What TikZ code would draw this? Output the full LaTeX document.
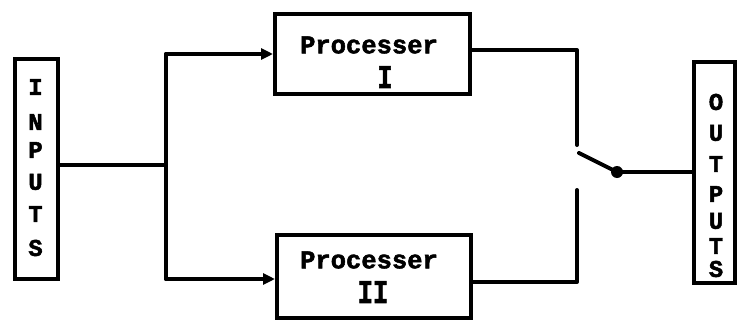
\documentclass[tikz,border=0pt]{standalone}
\usepackage{fontspec}
\usepackage{graphicx}
\setmonofont{Liberation Mono}[BoldFeatures={FakeBold=2}]
\usetikzlibrary{arrows.meta}
\begin{document}
\begin{tikzpicture}[x=1pt,y=-1pt,
  wire/.style={line width=4pt, line cap=round, line join=round},
  frame/.style={draw, line width=4pt, rectangle, inner sep=0pt},
  lbl/.style={font=\ttfamily\bfseries\fontsize{25.5}{25.5}\selectfont, inner sep=0pt},
  letter/.style={font=\ttfamily\bfseries\fontsize{24}{24}\selectfont, inner sep=0pt},
  tip/.style={-{Triangle[length=12pt,width=11pt]}}]
\useasboundingbox (0,0) rectangle (739,324);

% blocks
\node[frame, minimum width=43pt, minimum height=220pt] (inputs) at (36.5,169) {};
\node[frame, minimum width=195pt, minimum height=80pt] (p1) at (372.5,54) {};
\node[frame, minimum width=194pt, minimum height=83pt] (p2) at (374,276.5) {};
\node[frame, minimum width=41pt, minimum height=221pt] (outputs) at (714.5,172.5) {};

% block labels
\node[lbl] (p1a) at (369,45) {Processer};
\node[lbl] (p1b) at (385,77) {\scalebox{1}[1.3]{I}};
\node[lbl] (p2a) at (369,260) {Processer};
\node[lbl] (p2b) at (373,292) {\scalebox{1}[1.3]{II}};

% vertical captions
\foreach \ch/\yy [count=\k] in {I/87,N/122,P/150,U/182,T/214,S/248}
  \node[letter] (in\k) at (35.5,\yy) {\ch};
\foreach \ch/\yy [count=\k] in {O/102,U/133,T/164,P/194,U/221,T/246,S/269}
  \node[letter] (out\k) at (716,\yy) {\ch};

% fork from the inputs to both processors
\coordinate (j) at (166,165);
\coordinate (jt) at (166,54);
\coordinate (jb) at (166,279);
\draw[wire] (inputs.east |- j) -- (j);
\draw[wire] (jb) -- (jt);
\draw[wire, tip] (jt) -- (p1.west |- jt);
\draw[wire, tip] (jb) -- (p2.west |- jb);

% selector switch
\coordinate (ua) at (577,50);
\coordinate (ub) at (577,145);
\coordinate (la) at (577,190);
\coordinate (lb) at (577,282);
\coordinate (bl) at (579,153);
\node[circle, fill, inner sep=0pt, minimum size=12pt] (pv) at (617,172) {};
\draw[wire] (p1.east |- ua) -- (ua) -- (ub);
\draw[wire] (la) -- (lb) -- (p2.east |- lb);
\draw[wire] (bl) -- (pv.center);
\draw[wire] (pv.center) -- (outputs.west |- pv);
\end{tikzpicture}
\end{document}
